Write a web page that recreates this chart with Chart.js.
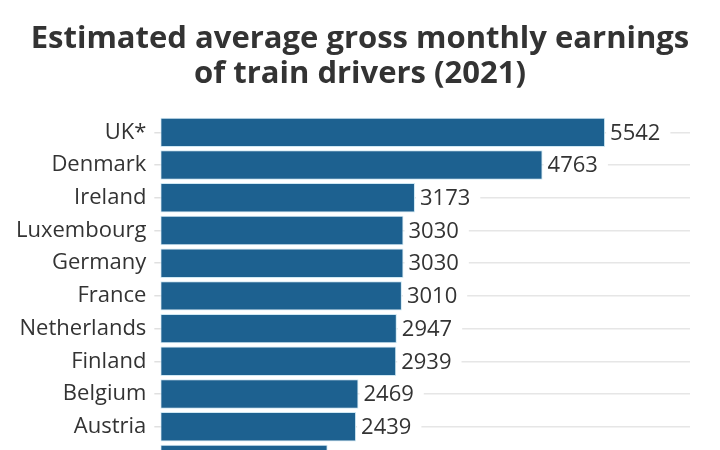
<!DOCTYPE html>
<html lang="en">
<head>
  <meta charset="UTF-8" />
  <title>Train drivers earnings</title>
  <script src="https://cdn.jsdelivr.net/npm/chart.js"></script>
  <style>
    html, body { margin: 0; padding: 0; background: #fff; overflow: hidden; }
  </style>
</head>
<body>
  <canvas id="myChart" width="720" height="497"></canvas>
  <script>
    // data (last row is cut off at the bottom edge)
    const countries = ["UK*", "Denmark", "Ireland", "Luxembourg", "Germany", "France",
      "Netherlands", "Finland", "Belgium", "Austria", "Italy"];
    const earnings = [5542, 4763, 3173, 3030, 3030, 3010, 2947, 2939, 2469, 2439, 2085];
    const titleLines = ["Estimated average gross monthly earnings", "of train drivers (2021)"];

    const FONT = "'Open Sans', sans-serif";

    // title centred on the whole canvas (the built-in one centres on the padded box)
    const pageTitle = {
      id: "pageTitle",
      afterDraw(chart) {
        const ctx = chart.ctx;
        ctx.save();
        ctx.font = "bold 31px " + FONT;
        ctx.fillStyle = "#333";
        ctx.textAlign = "center";
        ctx.textBaseline = "middle";
        titleLines.forEach((line, i) => ctx.fillText(line, chart.width / 2, 39 + i * 35));
        ctx.restore();
      }
    };

    // value labels to the right of each bar, on a white box so the grid line stops there
    const valueLabels = {
      id: "valueLabels",
      afterDatasetsDraw(chart) {
        const ctx = chart.ctx;
        const meta = chart.getDatasetMeta(0);
        ctx.save();
        ctx.font = "22px " + FONT;
        ctx.textBaseline = "middle";
        meta.data.forEach((bar, i) => {
          const txt = String(earnings[i]);
          const w = ctx.measureText(txt).width;
          ctx.fillStyle = "#fff";
          ctx.fillRect(bar.x + 1, bar.y - 11, w + 14, 22);
          ctx.fillStyle = "#333";
          ctx.fillText(txt, bar.x + 5, bar.y + 1);
        });
        ctx.restore();
      }
    };

    const ctx = document.getElementById("myChart").getContext("2d");
    new Chart(ctx, {
      type: "bar",
      data: {
        labels: countries,
        datasets: [{
          data: earnings,
          backgroundColor: "#1d6190",
          borderColor: "#cfe8f3",
          borderWidth: 1,
          borderSkipped: false,
          categoryPercentage: 1,
          barPercentage: 0.9
        }]
      },
      options: {
        indexAxis: "y",
        responsive: false,
        animation: false,
        layout: { padding: { left: 8, right: 30, top: 116, bottom: 2 } },
        plugins: {
          legend: { display: false },
          tooltip: { enabled: false },
          title: { display: false }
        },
        scales: {
          x: {
            display: false,
            min: 0,
            max: 6600
          },
          y: {
            grid: {
              offset: false,
              color: "#e6e6e6",
              lineWidth: 1.5,
              drawTicks: true,
              tickLength: 6,
              tickColor: "#e0e0e0"
            },
            border: { display: false },
            ticks: {
              color: "#333",
              padding: 8,
              font: { family: FONT, size: 22 }
            }
          }
        }
      },
      plugins: [valueLabels, pageTitle]
    });
  </script>
</body>
</html>
